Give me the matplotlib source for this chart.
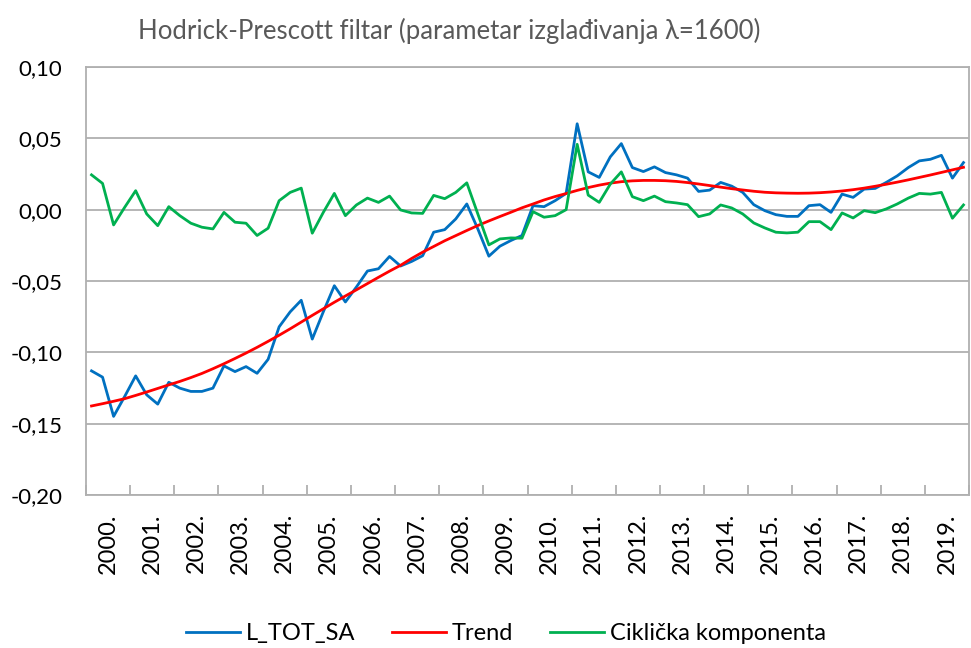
import numpy as np
import matplotlib.pyplot as plt
from matplotlib.ticker import FuncFormatter, FixedLocator

# quarterly data 2000Q1 - 2019Q4
years = [str(y) + "." for y in range(2000, 2020)]

l_tot_sa = [-0.1130, -0.1174, -0.1449, -0.1310, -0.1165, -0.1298, -0.1363, -0.1210,
            -0.1251, -0.1274, -0.1274, -0.1251, -0.1095, -0.1135, -0.1100, -0.1147,
            -0.1049, -0.0821, -0.0716, -0.0635, -0.0907, -0.0716, -0.0533, -0.0647,
            -0.0542, -0.0430, -0.0414, -0.0328, -0.0395, -0.0363, -0.0323, -0.0158,
            -0.0140, -0.0065, 0.0040, -0.0135, -0.0326, -0.0256, -0.0216, -0.0181,
            0.0028, 0.0021, 0.0063, 0.0114, 0.0602, 0.0265, 0.0226, 0.0370,
            0.0463, 0.0295, 0.0267, 0.0300, 0.0260, 0.0244, 0.0221, 0.0128,
            0.0137, 0.0191, 0.0165, 0.0121, 0.0035, -0.0007, -0.0035, -0.0047,
            -0.0047, 0.0028, 0.0035, -0.0019, 0.0109, 0.0086, 0.0144, 0.0149,
            0.0191, 0.0237, 0.0295, 0.0342, 0.0353, 0.0381, 0.0221, 0.0330]

trend = [-0.1376, -0.1360, -0.1343, -0.1325, -0.1302, -0.1278, -0.1253, -0.1228,
         -0.1204, -0.1177, -0.1148, -0.1115, -0.1080, -0.1043, -0.1005, -0.0965,
         -0.0923, -0.0880, -0.0835, -0.0788, -0.0741, -0.0695, -0.0649, -0.0605,
         -0.0562, -0.0518, -0.0474, -0.0431, -0.0390, -0.0342, -0.0298, -0.0258,
         -0.0218, -0.0182, -0.0146, -0.0111, -0.0079, -0.0048, -0.0018, 0.0013,
         0.0040, 0.0068, 0.0092, 0.0113, 0.0135, 0.0155, 0.0172, 0.0186,
         0.0196, 0.0202, 0.0205, 0.0205, 0.0203, 0.0198, 0.0190, 0.0180,
         0.0169, 0.0158, 0.0147, 0.0138, 0.0129, 0.0122, 0.0118, 0.0116,
         0.0115, 0.0116, 0.0119, 0.0124, 0.0131, 0.0140, 0.0151, 0.0164,
         0.0178, 0.0193, 0.0209, 0.0226, 0.0243, 0.0261, 0.0279, 0.0297]

ciklicka = [0.0244, 0.0184, -0.0107, 0.0016, 0.0133, -0.0030, -0.0112, 0.0021,
            -0.0042, -0.0095, -0.0123, -0.0135, -0.0019, -0.0088, -0.0095, -0.0181,
            -0.0130, 0.0063, 0.0121, 0.0151, -0.0165, -0.0019, 0.0114, -0.0042,
            0.0033, 0.0081, 0.0051, 0.0095, -0.0002, -0.0023, -0.0026, 0.0100,
            0.0077, 0.0121, 0.0188, -0.0030, -0.0247, -0.0205, -0.0198, -0.0200,
            -0.0014, -0.0053, -0.0042, 0.0000, 0.0458, 0.0102, 0.0051, 0.0179,
            0.0265, 0.0091, 0.0063, 0.0095, 0.0056, 0.0047, 0.0035, -0.0049,
            -0.0030, 0.0033, 0.0012, -0.0030, -0.0093, -0.0128, -0.0158, -0.0163,
            -0.0158, -0.0084, -0.0084, -0.0140, -0.0023, -0.0058, -0.0007, -0.0021,
            0.0005, 0.0040, 0.0081, 0.0114, 0.0109, 0.0121, -0.0060, 0.0033]

plt.rcParams['font.family'] = ['Lato', 'DejaVu Sans']
grey = '#b0b0b0'

fig = plt.figure(figsize=(9.71, 6.48), dpi=100)
ax = fig.add_axes([86 / 971, 1 - 495 / 648, 883 / 971, 428 / 648])

x = np.arange(len(l_tot_sa))
ax.plot(x, l_tot_sa, color='#0070C0', lw=2.0, label='L_TOT_SA')
ax.plot(x, trend, color='#FF0000', lw=2.0, label='Trend')
ax.plot(x, ciklicka, color='#00B050', lw=2.0, label='Ciklička komponenta')

ax.set_xlim(-0.5, len(x) - 0.5)
ax.set_ylim(-0.20, 0.10)
ax.set_yticks(np.arange(-0.20, 0.101, 0.05))
ax.yaxis.set_major_formatter(FuncFormatter(lambda v, p: f"{v:.2f}".replace('.', ',').replace('-0,00', '0,00')))
ax.grid(axis='y', color=grey, lw=1.3)
ax.set_axisbelow(True)

# year boundaries as ticks, labels in the middle of each year
ax.xaxis.set_major_locator(FixedLocator(np.arange(-0.5, len(x), 4)))
ax.xaxis.set_major_formatter(FuncFormatter(lambda v, p: ''))
ax.xaxis.set_minor_locator(FixedLocator(np.arange(1.5, len(x), 4)))
ax.set_xticklabels(years, minor=True, rotation=90, fontsize=17)
ax.tick_params(axis='x', which='major', direction='in', length=7, color=grey, width=1.3)
ax.tick_params(axis='x', which='minor', length=0, pad=13)
ax.tick_params(axis='y', length=0, pad=17, labelsize=16)

for s in ax.spines.values():
    s.set_color(grey)
    s.set_linewidth(1.3)

fig.text(0.463, 0.953, 'Hodrick-Prescott filtar (parametar izglađivanja λ=1600)',
         ha='center', va='center', fontsize=18.5, color='#595959')

fig.legend(loc='center', bbox_to_anchor=(0.521, 0.022), ncol=3, frameon=False,
           fontsize=17, handlelength=2.3, handletextpad=0.25, columnspacing=1.55)

fig.savefig('out.png', dpi=100)
